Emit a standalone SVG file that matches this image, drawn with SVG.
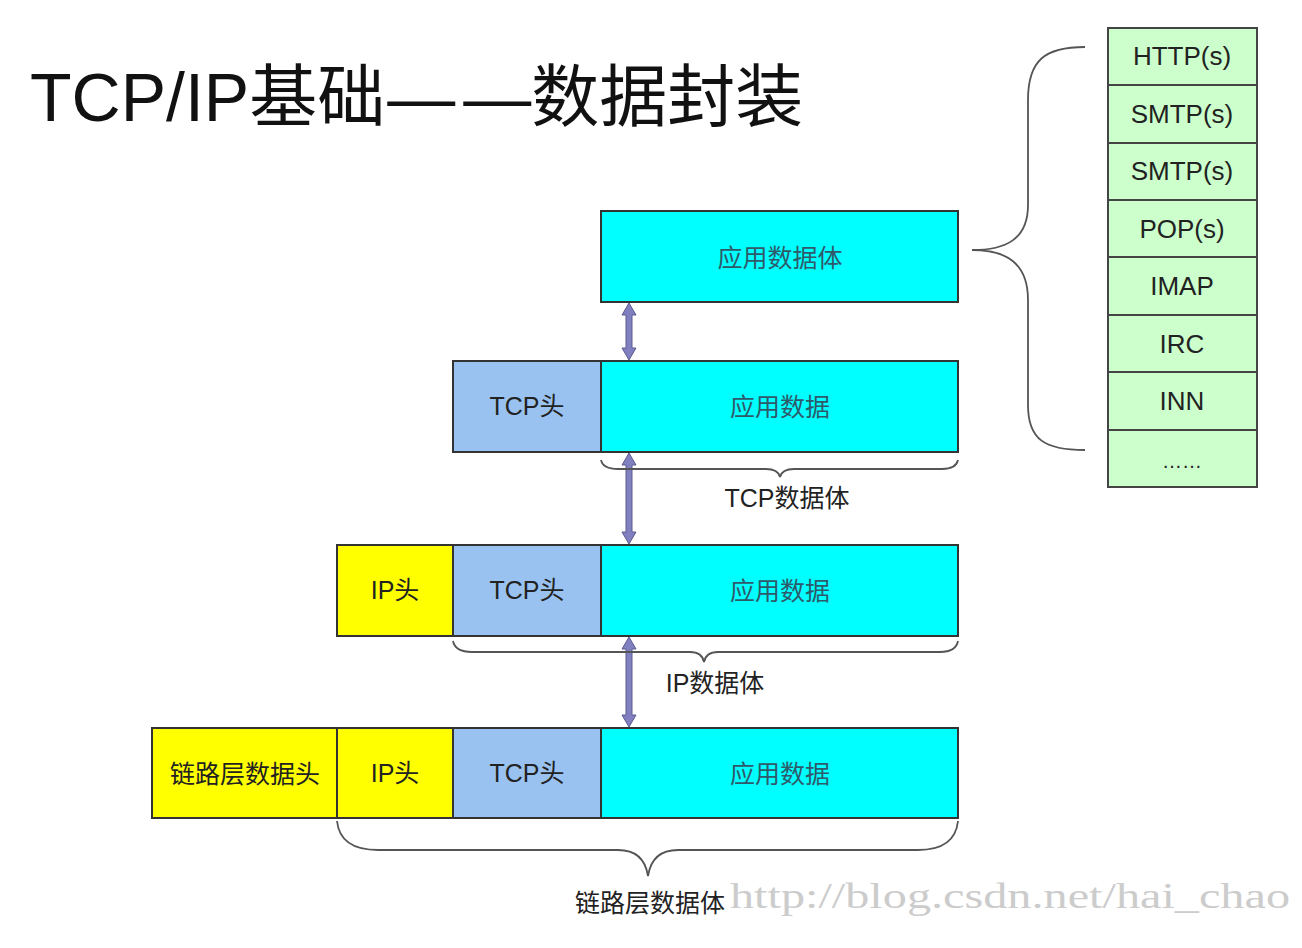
<svg xmlns="http://www.w3.org/2000/svg" width="1302" height="948" viewBox="0 0 1302 948">
<style>
  .t { font-family: "Liberation Sans", "Noto Sans CJK SC", sans-serif; text-anchor: middle; }
  .lbl { font-size: 25px; fill: #222; }
  .lblc { font-size: 25px; fill: #2f5a6a; }
  .cyan { fill: #00FFFF; stroke: #333; stroke-width: 2; }
  .blue { fill: #99C2F0; stroke: #333; stroke-width: 2; }
  .yel { fill: #FFFF00; stroke: #333; stroke-width: 2; }
  .grn { fill: #CCFFCC; stroke: #444; stroke-width: 2; }
  .brace { fill: none; stroke: #555; stroke-width: 1.8; }
  .arr { fill: #8080C0; stroke: #5a5a90; stroke-width: 1; }
  .proto { font-size: 26px; fill: #222; }
</style>
<rect width="1302" height="948" fill="#ffffff"/>

<text id="title" x="30" y="121" style="font-family:'Liberation Sans','Noto Sans CJK SC',sans-serif;font-size:68px;fill:#111">TCP/IP基础<tspan dx="2">—</tspan><tspan dx="8">—</tspan><tspan dx="0">数据封装</tspan></text>

<g id="row1">
  <rect class="cyan" x="601" y="211" width="357" height="91"/>
  <text class="t lblc" x="780" y="267">应用数据体</text>
</g>

<g id="row2">
  <rect class="blue" x="453" y="361" width="148" height="91"/>
  <text class="t lbl" x="527" y="415">TCP头</text>
  <rect class="cyan" x="601" y="361" width="357" height="91"/>
  <text class="t lblc" x="780" y="416">应用数据</text>
</g>

<g id="row3">
  <rect class="yel" x="337" y="545" width="116" height="91"/>
  <text class="t lbl" x="395" y="599">IP头</text>
  <rect class="blue" x="453" y="545" width="148" height="91"/>
  <text class="t lbl" x="527" y="599">TCP头</text>
  <rect class="cyan" x="601" y="545" width="357" height="91"/>
  <text class="t lblc" x="780" y="600">应用数据</text>
</g>

<g id="row4">
  <rect class="yel" x="152" y="728" width="185" height="90"/>
  <text class="t lbl" x="245" y="783">链路层数据头</text>
  <rect class="yel" x="337" y="728" width="116" height="90"/>
  <text class="t lbl" x="395" y="782">IP头</text>
  <rect class="blue" x="453" y="728" width="148" height="90"/>
  <text class="t lbl" x="527" y="782">TCP头</text>
  <rect class="cyan" x="601" y="728" width="357" height="90"/>
  <text class="t lblc" x="780" y="783">应用数据</text>
</g>

<g id="protocols">
  <rect class="grn" x="1108" y="28" width="149" height="57"/>
  <text class="t proto" x="1182" y="65">HTTP(s)</text>
  <rect class="grn" x="1108" y="85" width="149" height="58"/>
  <text class="t proto" x="1182" y="123">SMTP(s)</text>
  <rect class="grn" x="1108" y="143" width="149" height="57"/>
  <text class="t proto" x="1182" y="180">SMTP(s)</text>
  <rect class="grn" x="1108" y="200" width="149" height="57"/>
  <text class="t proto" x="1182" y="238">POP(s)</text>
  <rect class="grn" x="1108" y="257" width="149" height="58"/>
  <text class="t proto" x="1182" y="295">IMAP</text>
  <rect class="grn" x="1108" y="315" width="149" height="57"/>
  <text class="t proto" x="1182" y="353">IRC</text>
  <rect class="grn" x="1108" y="372" width="149" height="58"/>
  <text class="t proto" x="1182" y="410">INN</text>
  <rect class="grn" x="1108" y="430" width="149" height="57"/>
  <text class="t proto" x="1182" y="468" style="font-size:20px">……</text>
</g>

<g id="connectors">
  <polygon class="arr" points="629,303 636,315 632,315 632,348 636,348 629,360 622,348 626,348 626,315 622,315"/>
  <polygon class="arr" points="629,453 636,465 632,465 632,532 636,532 629,544 622,532 626,532 626,465 622,465"/>
  <polygon class="arr" points="629,637 636,649 632,649 632,715 636,715 629,727 622,715 626,715 626,649 622,649"/>
  <path class="brace" d="M601,460 Q603,469 618,469 L766,469 Q778,469 780,477 Q782,469 794,469 L942,469 Q956,469 958,460"/>
  <path class="brace" d="M453,641 Q455,652 472,652 L690,652 Q702,652 704,662 Q706,652 718,652 L940,652 Q956,652 958,641"/>
  <path class="brace" d="M337,821 Q340,850 378,850 L618,850 Q644,850 648,876 Q652,850 678,850 L918,850 Q955,850 958,821"/>
  <path class="brace" d="M1085,47 C1045,47 1028,60 1028,100 L1028,205 C1028,240 1005,250 972,250 C1005,250 1028,262 1028,300 L1028,405 C1028,440 1045,450 1085,450"/>
</g>

<text x="730" y="908" textLength="560" lengthAdjust="spacingAndGlyphs" style="font-family:'Liberation Serif',serif;font-size:36px;fill:#cccccc">http://blog.csdn.net/hai_chao</text>

<g id="labels">
  <text class="t lbl" x="787" y="507">TCP数据体</text>
  <text class="t lbl" x="715" y="692">IP数据体</text>
  <text class="t lbl" x="650" y="912">链路层数据体</text>
</g>
</svg>
